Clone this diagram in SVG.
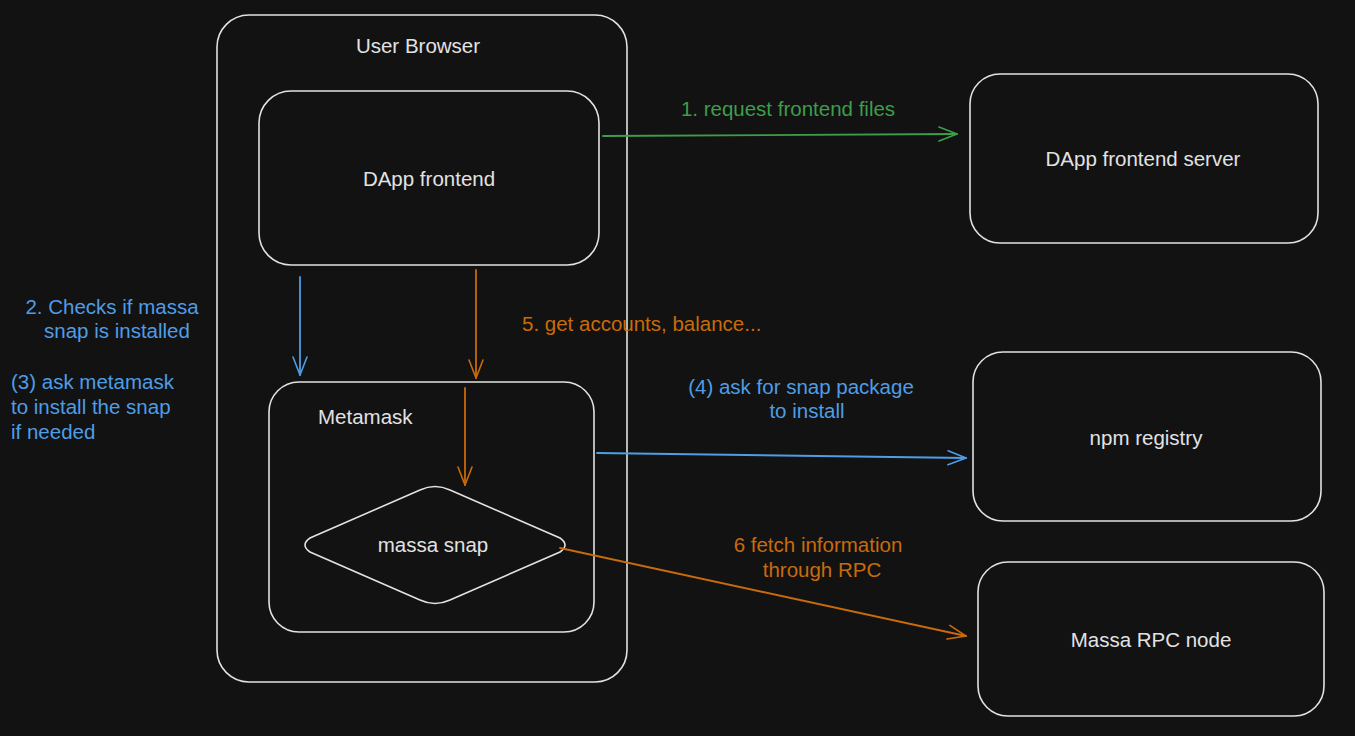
<svg xmlns="http://www.w3.org/2000/svg" width="1355" height="736" viewBox="0 0 1355 736">
  <style>
    .box { fill: none; stroke: #e2e2e2; stroke-width: 1.6; }
    .lbl { font-family: "Liberation Sans", Arial, sans-serif; font-size: 20.5px; fill: #e2e2e2; dominant-baseline: central; }
    .c { text-anchor: middle; }
    .green { fill: #3d9e4a; }
    .blue { fill: #4e9de6; }
    .orange { fill: #c96b0b; }
    .ln { fill: none; stroke-width: 1.8; stroke-linecap: round; }
  </style>
  <defs>
    <marker id="ahG" viewBox="0 0 20 20" refX="19" refY="10" markerWidth="20" markerHeight="20" markerUnits="userSpaceOnUse" orient="auto">
      <path d="M1,3 L19,10 L1,17" fill="none" stroke="#3d9e4a" stroke-width="1.6" stroke-linecap="round"/>
    </marker>
    <marker id="ahB" viewBox="0 0 20 20" refX="19" refY="10" markerWidth="20" markerHeight="20" markerUnits="userSpaceOnUse" orient="auto">
      <path d="M1,3 L19,10 L1,17" fill="none" stroke="#4e9de6" stroke-width="1.6" stroke-linecap="round"/>
    </marker>
    <marker id="ahO" viewBox="0 0 20 20" refX="19" refY="10" markerWidth="20" markerHeight="20" markerUnits="userSpaceOnUse" orient="auto">
      <path d="M1,3 L19,10 L1,17" fill="none" stroke="#c96b0b" stroke-width="1.6" stroke-linecap="round"/>
    </marker>
  </defs>
  <rect x="0" y="0" width="1355" height="736" fill="#121212"/>

  <g id="user-browser">
    <rect class="box" x="217" y="15" width="410" height="667" rx="32"/>
    <text class="lbl c" x="418" y="45">User Browser</text>
  </g>

  <g id="dapp-frontend">
    <rect class="box" x="259" y="91" width="340" height="174" rx="32"/>
    <text class="lbl c" x="429" y="178">DApp frontend</text>
  </g>

  <g id="metamask">
    <rect class="box" x="269" y="382" width="325" height="250" rx="30"/>
    <text class="lbl" x="318" y="416">Metamask</text>
  </g>

  <g id="massa-snap">
    <path class="box" d="M420,490 Q435,483 450,490 L560,538 Q570,545 560,552 L450,600 Q435,607 420,600 L310,552 Q300,545 310,538 Z"/>
    <text class="lbl c" x="433" y="544">massa snap</text>
  </g>

  <g id="dapp-frontend-server">
    <rect class="box" x="970" y="74" width="348" height="169" rx="30"/>
    <text class="lbl c" x="1143" y="158">DApp frontend server</text>
  </g>

  <g id="npm-registry">
    <rect class="box" x="973" y="352" width="348" height="169" rx="30"/>
    <text class="lbl c" x="1146" y="437">npm registry</text>
  </g>

  <g id="massa-rpc-node">
    <rect class="box" x="978" y="562" width="346" height="154" rx="30"/>
    <text class="lbl c" x="1151" y="639">Massa RPC node</text>
  </g>

  <g id="connectors">
    <path class="ln" stroke="#3d9e4a" d="M603,136 L957,134" marker-end="url(#ahG)"/>
    <path class="ln" stroke="#4e9de6" d="M300,277 L300,375" marker-end="url(#ahB)"/>
    <path class="ln" stroke="#c96b0b" d="M476,270 L476,378" marker-end="url(#ahO)"/>
    <path class="ln" stroke="#c96b0b" d="M465,388 L465,485" marker-end="url(#ahO)"/>
    <path class="ln" stroke="#4e9de6" d="M597,453 L966,458" marker-end="url(#ahB)"/>
    <path class="ln" stroke="#c96b0b" d="M560,548 L966,636" marker-end="url(#ahO)"/>
  </g>

  <g id="labels">
    <text class="lbl c green" x="788" y="108">1. request frontend files</text>
    <text class="lbl orange" x="522" y="323">5. get accounts, balance...</text>
    <text class="lbl c blue" x="801" y="386">(4) ask for snap package</text>
    <text class="lbl c blue" x="807" y="410">to install</text>
    <text class="lbl c orange" x="818" y="544">6 fetch information</text>
    <text class="lbl c orange" x="822" y="569">through RPC</text>
    <text class="lbl c blue" x="112" y="306">2. Checks if massa</text>
    <text class="lbl c blue" x="117" y="330">snap is installed</text>
    <text class="lbl blue" x="11" y="381">(3) ask metamask</text>
    <text class="lbl blue" x="11" y="406">to install the snap</text>
    <text class="lbl blue" x="11" y="431">if needed</text>
  </g>
</svg>
